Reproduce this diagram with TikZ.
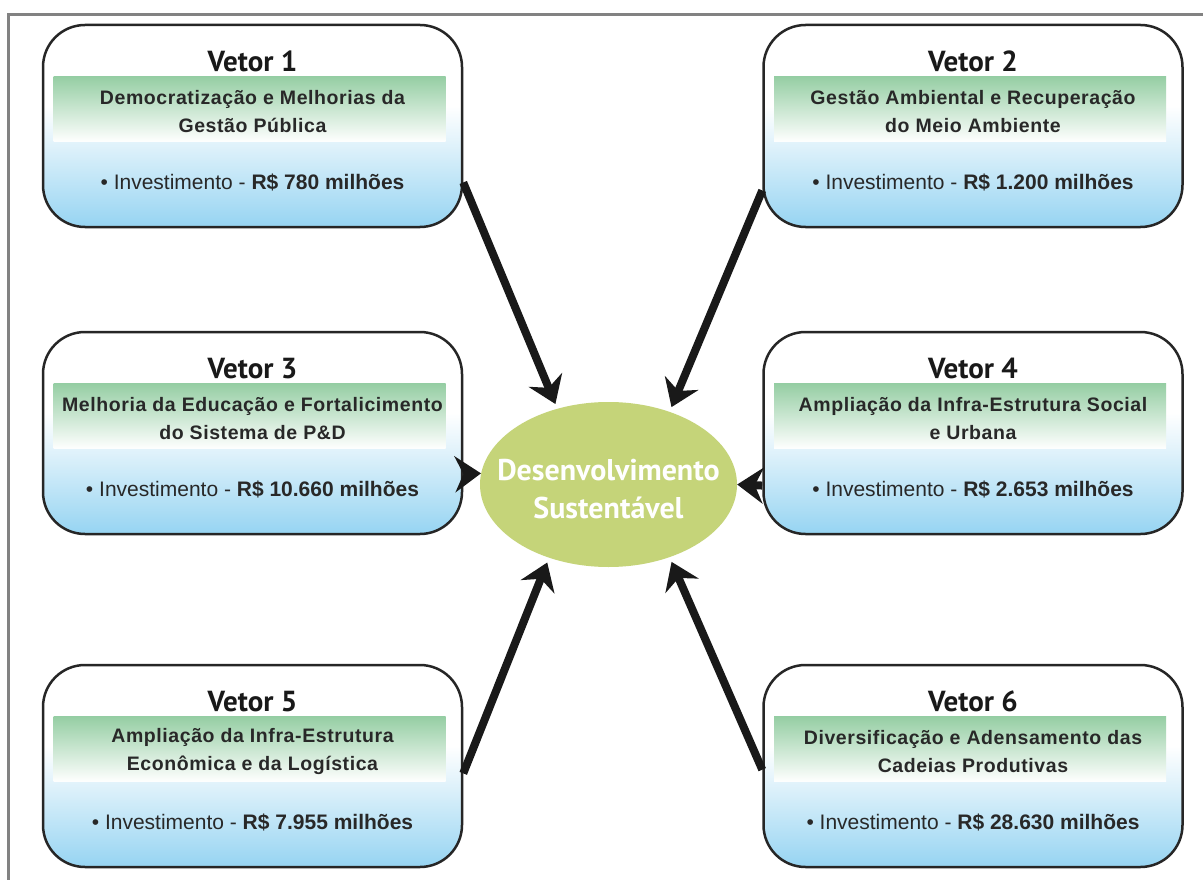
\documentclass[tikz,border=0pt]{standalone}
\usepackage{fontspec}
\setmainfont{Liberation Sans}
\newfontfamily\titlefont{PT Sans}
\newfontfamily\subfont[LetterSpace=3]{Liberation Sans}
\usetikzlibrary{arrows.meta,shapes.geometric}

\definecolor{boxblue}{RGB}{150,212,242}
\definecolor{paleblue}{RGB}{226,243,251}
\definecolor{bandgreen}{RGB}{150,206,164}
\definecolor{ellgreen}{RGB}{197,212,121}
\definecolor{framegray}{RGB}{130,130,130}
\definecolor{txt}{RGB}{40,40,40}

\pgfdeclareverticalshading{boxshade}{100bp}{color(0bp)=(boxblue); color(25bp)=(boxblue); color(46bp)=(paleblue); color(55bp)=(white); color(100bp)=(white)}

\tikzset{
  vbox/.style={draw=black!85, line width=2.5pt, rounded corners=42pt,
    minimum width=419pt, minimum height=202pt, shading=boxshade, inner sep=0pt},
  band/.style={minimum width=392pt, minimum height=65pt, top color=bandgreen,
    bottom color=white, inner sep=0pt, anchor=north},
  vtitle/.style={font=\titlefont\bfseries\fontsize{29}{29}\selectfont, text=black!90, inner sep=0pt},
  vsub/.style={font=\subfont\bfseries\fontsize{19.5}{28}\selectfont, text=txt, align=center, inner sep=0pt},
  vinv/.style={font=\fontsize{21}{21}\selectfont, text=txt, inner sep=0pt},
  arr/.style={line width=8pt, draw=black!90, -{Stealth[length=26pt,width=36pt]}, shorten >=5pt}
}

\newcommand\vetor[6]{%
  \node[vbox] (#1) at (#2,#3+101) {};
  \node[band] (#1band) at ([xshift=-3pt,yshift=-53pt]#1.north) {};
  \node[vtitle] (#1title) at ([yshift=-38pt]#1.north) {#4};
  \node[vsub] (#1sub) at ([yshift=-88pt]#1.north) {#5};
  \node[vinv] (#1inv) at ([yshift=-159pt]#1.north) {• Investimento - \textbf{#6}};
}

\begin{document}
\begin{tikzpicture}[x=1pt,y=-1pt]
\useasboundingbox[fill=white] (0,0) rectangle (1203,880);
\draw[framegray, line width=3pt] (8,882) -- (8,15) -- (1205,15);

\vetor{v1}{252.5}{25}{Vetor 1}{Democratização e Melhorias da\\Gestão Pública}{R\$ 780 milhões}
\vetor{v2}{973}{25}{Vetor 2}{Gestão Ambiental e Recuperação\\do Meio Ambiente}{R\$ 1.200 milhões}
\vetor{v3}{252.5}{332}{Vetor 3}{Melhoria da Educação e Fortalicimento\\do Sistema de P\&D}{R\$ 10.660 milhões}
\vetor{v4}{973}{332}{Vetor 4}{Ampliação da Infra-Estrutura Social\\e Urbana}{R\$ 2.653 milhões}
\vetor{v5}{252.5}{665}{Vetor 5}{Ampliação da Infra-Estrutura\\Econômica e da Logística}{R\$ 7.955 milhões}
\vetor{v6}{973}{665}{Vetor 6}{Diversificação e Adensamento das\\Cadeias Produtivas}{R\$ 28.630 milhões}

\node[ellipse, fill=ellgreen, minimum width=257pt, minimum height=165pt, inner sep=0pt] (e) at (608.5,484.5) {};
\node[font=\titlefont\bfseries\fontsize{30}{38}\selectfont, text=white, align=center, inner sep=0pt] (etext) at (608.5,489) {Desenvolvimento\\Sustentável};

\draw[arr] (v1.-15) -- (e.124.7);
\draw[arr] (v2.197.7) -- (e.50.7);
\draw[arr, shorten >=0pt] (v3.-11.7) -- (e.175.7);
\draw[arr, shorten >=0pt] (v4.194) -- (e.-0.7);
\draw[arr] (v5.-2.6) -- (e.231.5);
\draw[arr] (v6.181.2) -- (e.-50.7);
\end{tikzpicture}
\end{document}
